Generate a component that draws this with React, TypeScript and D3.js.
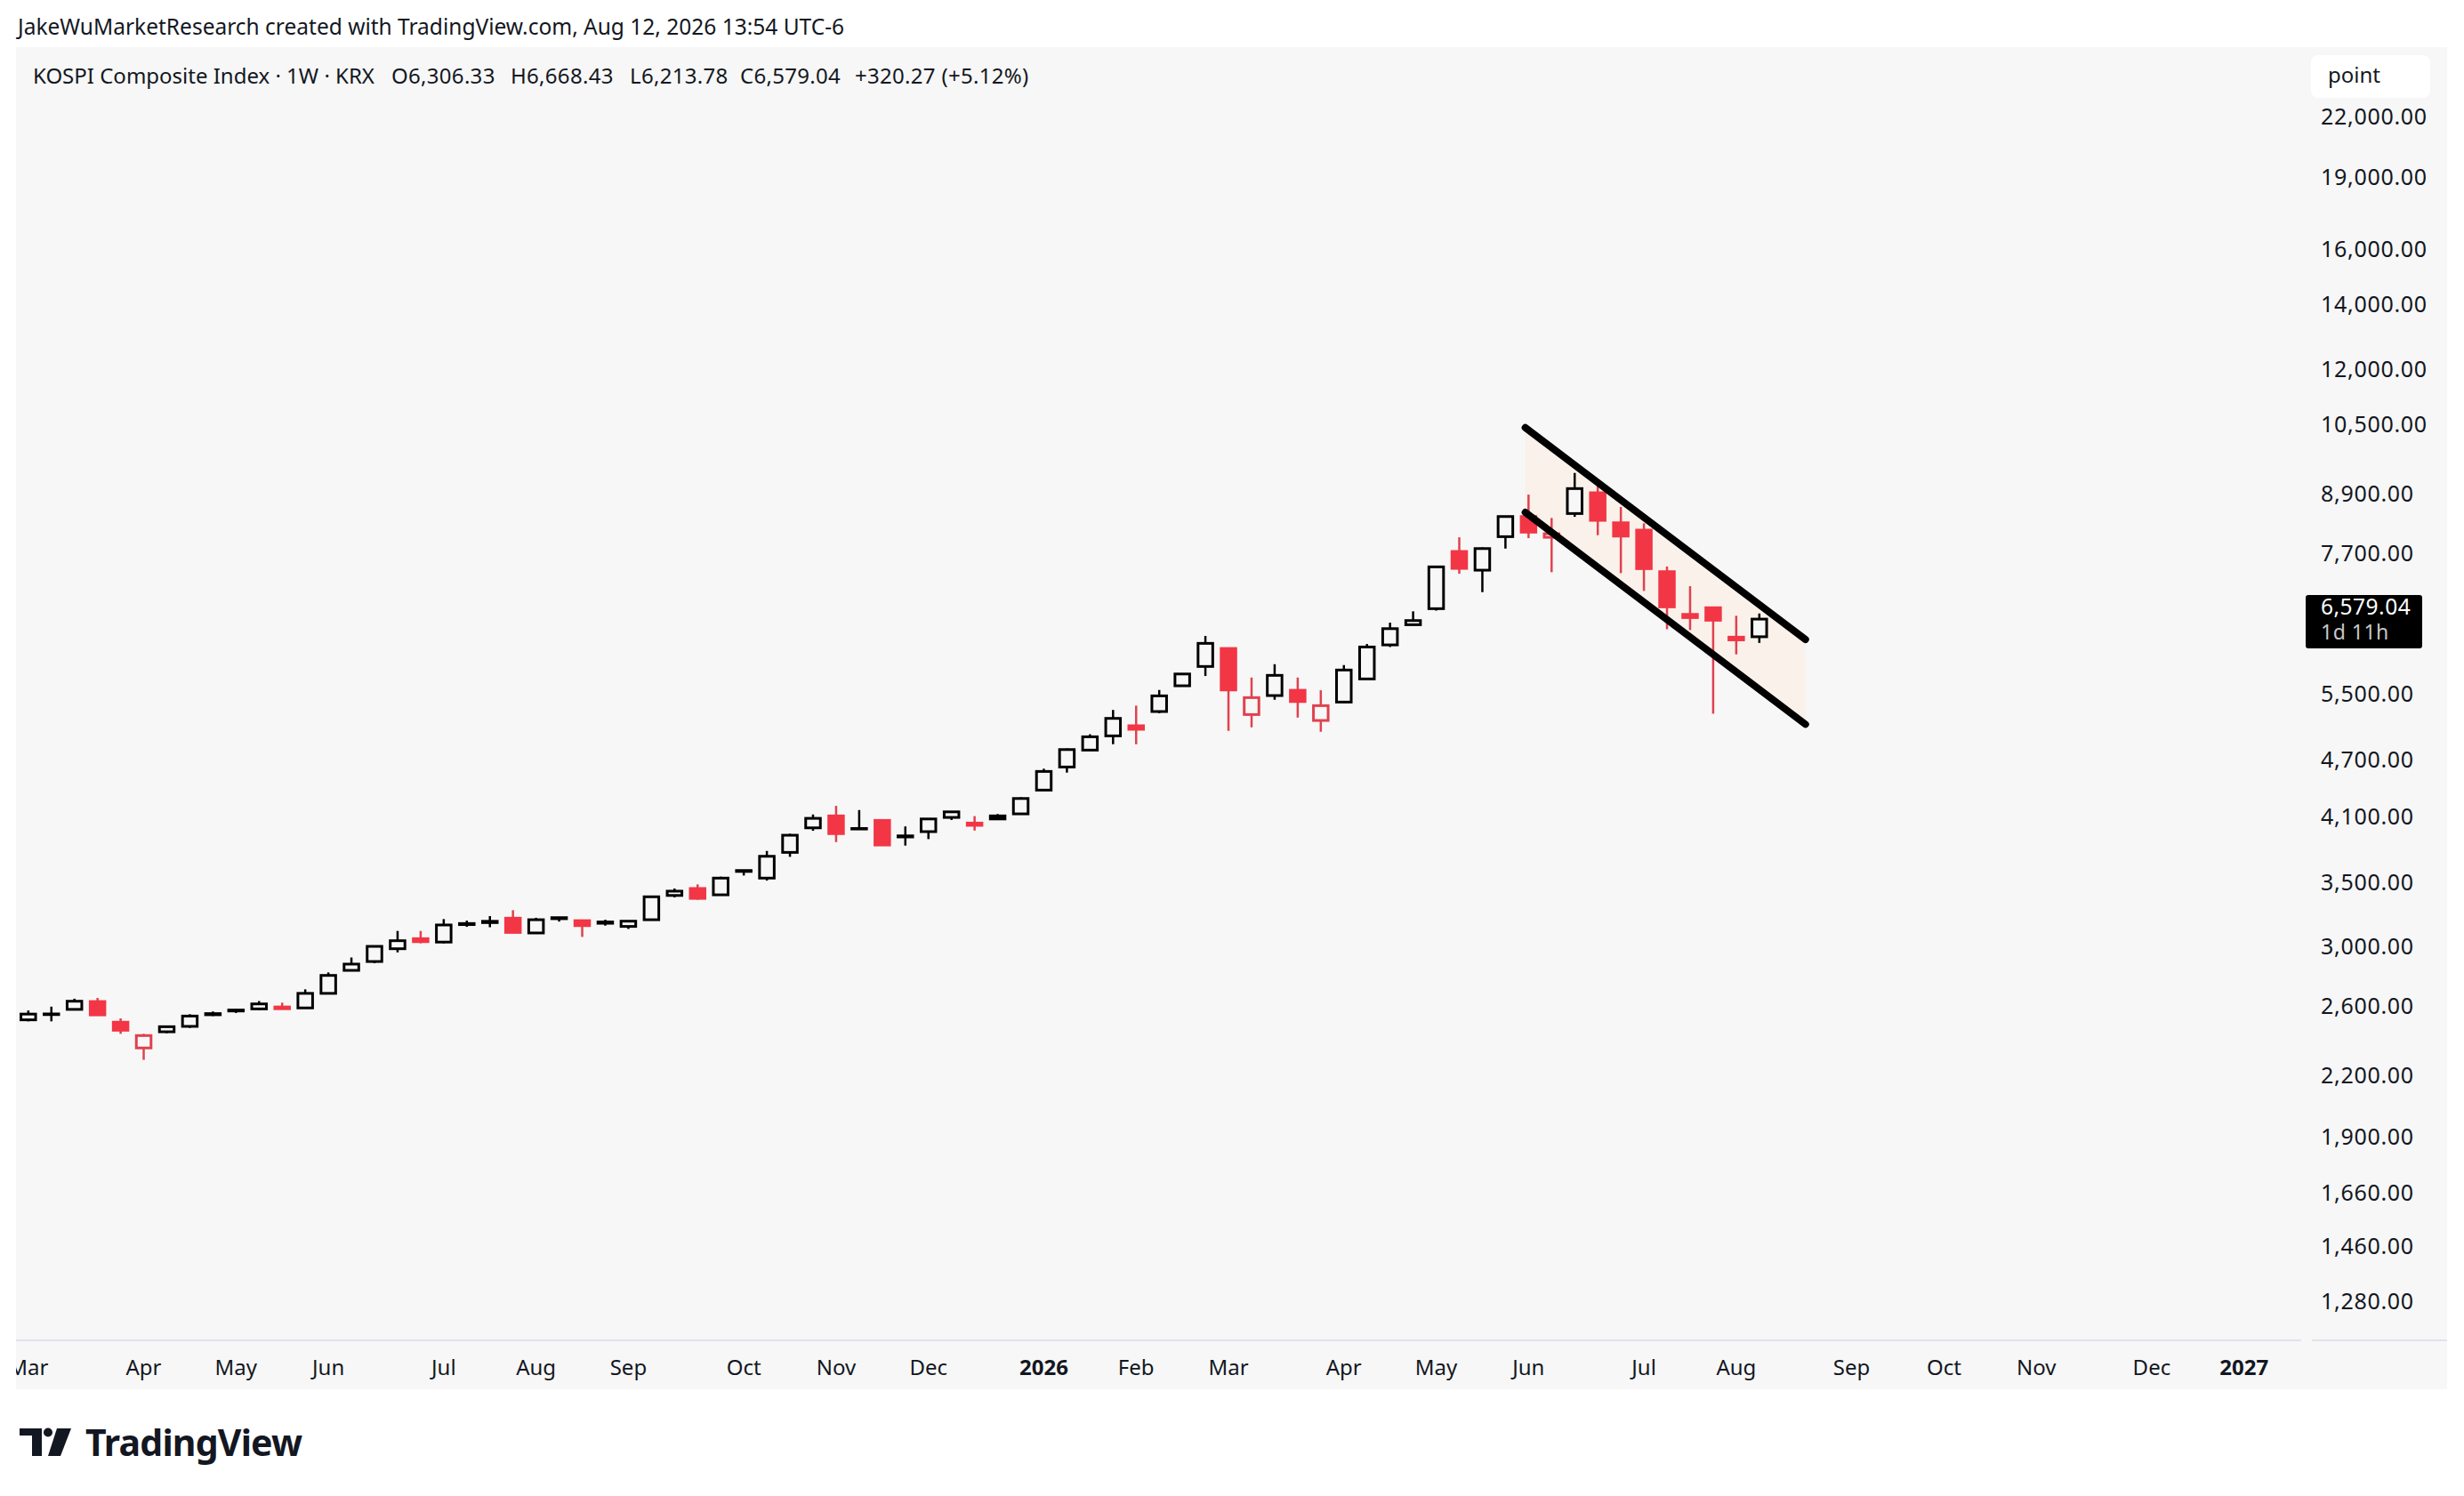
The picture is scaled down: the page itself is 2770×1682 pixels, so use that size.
import * as d3 from "d3";

// weekly bars (week start, Monday)
const weeks = [
  "2025-03-03", "2025-03-10", "2025-03-17", "2025-03-24", "2025-03-31", "2025-04-07", "2025-04-14", "2025-04-21",
  "2025-04-28", "2025-05-05", "2025-05-12", "2025-05-19", "2025-05-26", "2025-06-02", "2025-06-09", "2025-06-16",
  "2025-06-23", "2025-06-30", "2025-07-07", "2025-07-14", "2025-07-21", "2025-07-28", "2025-08-04", "2025-08-11",
  "2025-08-18", "2025-08-25", "2025-09-01", "2025-09-08", "2025-09-15", "2025-09-22", "2025-09-29", "2025-10-06",
  "2025-10-13", "2025-10-20", "2025-10-27", "2025-11-03", "2025-11-10", "2025-11-17", "2025-11-24", "2025-12-01",
  "2025-12-08", "2025-12-15", "2025-12-22", "2025-12-29", "2026-01-05", "2026-01-12", "2026-01-19", "2026-01-26",
  "2026-02-02", "2026-02-09", "2026-02-16", "2026-02-23", "2026-03-02", "2026-03-09", "2026-03-16", "2026-03-23",
  "2026-03-30", "2026-04-06", "2026-04-13", "2026-04-20", "2026-04-27", "2026-05-04", "2026-05-11", "2026-05-18",
  "2026-05-25", "2026-06-01", "2026-06-08", "2026-06-15", "2026-06-22", "2026-06-29", "2026-07-06", "2026-07-13",
  "2026-07-20", "2026-07-27", "2026-08-03", "2026-08-10",
];
const opens = [
  2514, 2546, 2578, 2627, 2500, 2350, 2443, 2475, 2545, 2568, 2581, 2593, 2587, 2679, 2831, 2892,
  2982, 3055, 3030, 3160, 3175, 3209, 3097, 3205, 3190, 3170, 3146, 3197, 3389, 3446, 3394, 3590,
  3533, 3758, 3986, 4102, 3975, 4058, 3900, 3950, 4087, 4032, 4102, 4122, 4364, 4613, 4804, 4971,
  5093, 5270, 5606, 5872, 6131, 5232, 5476, 5546, 5158, 5391, 5699, 6184, 6491, 6746, 7739, 7399,
  8019, 8416, 8007, 8477, 8910, 8291, 8146, 7373, 6654, 6761, 6300, 6306.33,
];
const highs = [
  2571, 2595, 2645, 2650, 2523, 2431, 2476, 2548, 2565, 2580, 2630, 2620, 2705, 2817, 2920, 3002,
  3112, 3112, 3202, 3190, 3225, 3271, 3212, 3215, 3192, 3197, 3190, 3380, 3446, 3480, 3545, 3600,
  3771, 3930, 4116, 4202, 4160, 4067, 4000, 4075, 4145, 4100, 4120, 4290, 4594, 4823, 4990, 5290,
  5345, 5550, 5770, 6318, 6140, 5718, 5904, 5718, 5546, 5892, 6197, 6523, 6703, 7470, 8007, 7815,
  8425, 8871, 8387, 9344, 9199, 8611, 8280, 7465, 7120, 6765, 6632, 6668.43,
];
const lows = [
  2505, 2505, 2575, 2540, 2431, 2284, 2435, 2466, 2537, 2556, 2574, 2580, 2585, 2677, 2830, 2880,
  2956, 3021, 3021, 3143, 3140, 3100, 3095, 3183, 3068, 3152, 3127, 3195, 3373, 3354, 3392, 3555,
  3512, 3718, 3958, 3852, 3972, 3818, 3820, 3880, 4062, 3960, 4065, 4120, 4360, 4551, 4798, 4872,
  4872, 5248, 5595, 5739, 5031, 5074, 5421, 5194, 5020, 5380, 5695, 6153, 6488, 6715, 7336, 7019,
  7793, 7990, 7363, 8410, 8047, 7347, 7040, 6422, 6409, 5243, 6045, 6213.78,
];
const closes = [
  2549, 2550, 2629, 2544, 2452, 2421, 2473, 2537, 2552, 2574, 2612, 2582, 2679, 2797, 2874, 2999,
  3040, 3033, 3157, 3168, 3185, 3101, 3197, 3213, 3152, 3180, 3186, 3378, 3424, 3365, 3533, 3598,
  3723, 3916, 4078, 3931, 3980, 3825, 3910, 4072, 4142, 4010, 4072, 4277, 4564, 4810, 4960, 5184,
  5050, 5472, 5767, 6207, 5550, 5449, 5748, 5398, 5345, 5822, 6153, 6430, 6556, 7458, 7431, 7793,
  8416, 8106, 8076, 9000, 8339, 8030, 7426, 6775, 6603, 6561, 6258.77, 6579.04,
];

const priceTicks = [
  22000, 19000, 16000, 14000, 12000, 10500, 8900, 7700, 5500, 4700, 4100, 3500, 3000, 2600, 2200, 1900, 1660,
  1460, 1280,
];

// descending channel drawn on the chart
const channelDates = ["2026-05-31", "2026-08-24"];
const channelUpper = [10418, 6264];
const channelLower = [8501, 5111];

const titleText = "JakeWuMarketResearch created with TradingView.com, Aug 12, 2026 13:54 UTC-6";
const legendText = "KOSPI Composite Index · 1W · KRX";
const ohlcText = ["O6,306.33", "H6,668.43", "L6,213.78", "C6,579.04", "+320.27 (+5.12%)"];
const lastPriceLabel = "6,579.04";
const countdownLabel = "1d 11h";

const W = 2770;
const H = 1682;
const panel = { left: 18, right: 2751, top: 53, bottom: 1562 };
const plotBottom = 1507;
const axisLeft = 2595;
const FONT = "'Noto Sans', sans-serif";
const UP = "#000000";
const DOWN = "#f23645";
const BG = "#f7f7f7";

export default function App() {
  const x = d3
    .scaleUtc()
    .domain([new Date("2025-03-03"), new Date("2027-01-04")])
    .range([31.8, 2522.7]);
  const y = d3.scaleLog().domain([1280, 22000]).range([1462.8, 130.7]);
  const fmt = d3.format(",.2f");

  const bars = weeks.map((w, i) => ({
    date: new Date(w),
    o: opens[i],
    h: highs[i],
    l: lows[i],
    c: closes[i],
    up: i === 0 ? true : closes[i] >= closes[i - 1],
    hollow: closes[i] >= opens[i],
  }));

  const bodyW = 19.5;
  const stroke = 3;

  const monthStarts = d3.utcMonths(new Date("2025-03-01"), new Date("2027-01-02"));
  const timeTicks = monthStarts.map((m) => ({
    date: d3.utcMonday.ceil(m),
    label: m.getUTCMonth() === 0 ? String(m.getUTCFullYear()) : d3.utcFormat("%b")(m),
    bold: m.getUTCMonth() === 0,
  }));

  const cx0 = x(new Date(channelDates[0]));
  const cx1 = x(new Date(channelDates[1]));
  const channelArea = [
    [cx0, y(channelUpper[0])],
    [cx1, y(channelUpper[1])],
    [cx1, y(channelLower[1])],
    [cx0, y(channelLower[0])],
  ];

  const last = bars[bars.length - 1];
  const lastY = y(last.c);

  return (
    <svg
      width={W}
      height={H}
      style={{ position: "absolute", left: 0, top: 0, background: "#ffffff" }}
      fontFamily={FONT}
    >
      <defs>
        <clipPath id="plot">
          <rect x={panel.left} y={panel.top} width={axisLeft - panel.left} height={plotBottom - panel.top} />
        </clipPath>
        <clipPath id="timeaxis">
          <rect x={panel.left} y={plotBottom} width={axisLeft - panel.left} height={panel.bottom - plotBottom} />
        </clipPath>
      </defs>

      <text x={20} y={39} fontSize={24.5} fill="#131722">
        {titleText}
      </text>

      <rect x={panel.left} y={panel.top} width={panel.right - panel.left} height={panel.bottom - panel.top} fill={BG} />

      {/* channel */}
      <g clipPath="url(#plot)">
        <path d={d3.line()(channelArea as [number, number][]) + "Z"} fill="#f9f1ea" />
        {/* candles */}
        {bars.map((b, i) => {
          const cx = x(b.date);
          const col = b.up ? UP : DOWN;
          const top = y(Math.max(b.o, b.c));
          const bot = y(Math.min(b.o, b.c));
          return (
            <g key={i}>
              <line x1={cx} x2={cx} y1={y(b.h)} y2={y(b.l)} stroke={b.up ? UP : "#e0414f"} strokeWidth={2.5} />
              {b.hollow ? (
                <rect
                  x={cx - bodyW / 2 + stroke / 2}
                  y={top + stroke / 2 - 1.5}
                  width={bodyW - stroke}
                  height={Math.max(bot - top - stroke + 3, 0.5)}
                  fill={BG}
                  stroke={b.up ? UP : "#e0414f"}
                  strokeWidth={stroke}
                />
              ) : (
                <rect x={cx - bodyW / 2} y={top - 1.5} width={bodyW} height={Math.max(bot - top + 3, 3)} fill={col} />
              )}
            </g>
          );
        })}
        <line
          x1={cx0}
          y1={y(channelUpper[0])}
          x2={cx1}
          y2={y(channelUpper[1])}
          stroke="#000"
          strokeWidth={8}
          strokeLinecap="round"
        />
        <line
          x1={cx0}
          y1={y(channelLower[0])}
          x2={cx1}
          y2={y(channelLower[1])}
          stroke="#000"
          strokeWidth={8}
          strokeLinecap="round"
        />
      </g>

      {/* legend */}
      <text y={94} fontSize={24} fill="#131722">
        <tspan x={37}>{legendText}</tspan>
        {ohlcText.map((t, i) => (
          <tspan key={i} x={[440, 574, 708, 832, 961][i]} letterSpacing={0.3}>
            {t}
          </tspan>
        ))}
      </text>

      {/* time axis */}
      <line x1={panel.left} x2={axisLeft - 8} y1={plotBottom} y2={plotBottom} stroke="#e0e3eb" strokeWidth={2} />
      <line x1={axisLeft + 4} x2={panel.right} y1={plotBottom} y2={plotBottom} stroke="#e0e3eb" strokeWidth={2} />
      <g clipPath="url(#timeaxis)">
        {timeTicks.map((t, i) => (
          <text
            key={i}
            x={x(t.date)}
            y={1546}
            textAnchor="middle"
            fontSize={24}
            fontWeight={t.bold ? 700 : 400}
            fill="#131722"
          >
            {t.label}
          </text>
        ))}
      </g>

      {/* price axis */}
      {priceTicks.map((p) => (
        <text key={p} x={2609} y={y(p) + 9} fontSize={25} letterSpacing={0.7} fill="#131722">
          {fmt(p)}
        </text>
      ))}
      <rect x={2598} y={62} width={134} height={48} rx={8} fill="#ffffff" />
      <text x={2617} y={93} fontSize={24} fill="#131722">
        point
      </text>

      <rect x={2592} y={lastY - 27} width={131} height={60} rx={3} fill="#000000" />
      <text x={2609} y={lastY - 5} fontSize={24.5} letterSpacing={0.5} fill="#ffffff">
        {lastPriceLabel}
      </text>
      <text x={2609} y={lastY + 23} fontSize={23} letterSpacing={0.5} fill="#c8c8c8">
        {countdownLabel}
      </text>

      {/* logo */}
      <g fill="#131722">
        <path d="M22 1606 H47 V1637 H36 V1614 H22 Z" />
        <circle cx={54} cy={1610.5} r={5} />
        <path d="M64 1606 H80 L68 1637 H54 Z" />
        <text x={96} y={1637} fontSize={41} fontWeight={700} letterSpacing={-0.8}>
          TradingView
        </text>
      </g>
    </svg>
  );
}
